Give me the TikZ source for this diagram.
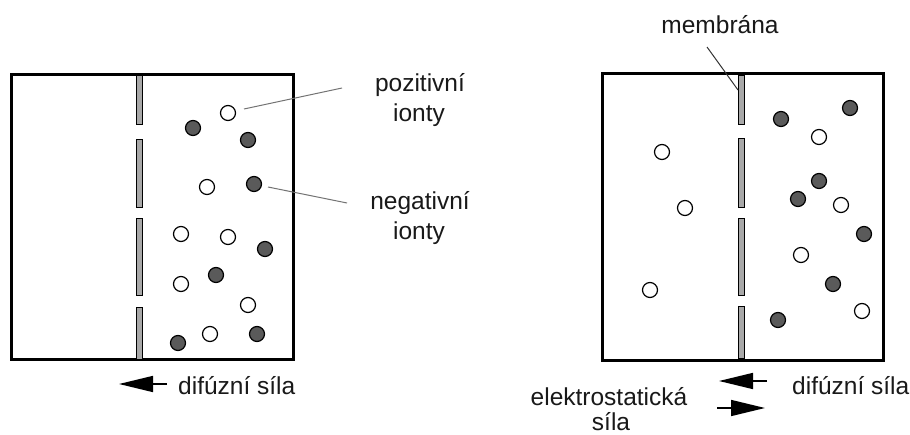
\documentclass[tikz,border=0pt]{standalone}
\usepackage{fontspec}
\setmainfont{Liberation Sans}
\usetikzlibrary{arrows.meta}
\definecolor{memgray}{HTML}{A8A8A8}
\definecolor{iondark}{HTML}{5A5A5A}
\begin{document}
\begin{tikzpicture}[x=1pt,y=-1pt,
  vessel/.style={draw=black,line width=3.8pt},
  memseg/.style={draw=black,line width=0.8pt,fill=memgray},
  posion/.style={circle,draw=black,line width=1.2pt,fill=white,minimum size=15pt,inner sep=0pt},
  negion/.style={circle,draw=black,line width=1.2pt,fill=iondark,minimum size=15pt,inner sep=0pt},
  lbl/.style={font=\fontsize{24.5}{29}\selectfont,inner sep=0pt,anchor=base,text=black!90},
  leader/.style={draw=black!55,line width=1pt},
  force/.style={line width=1.6pt,-{Triangle[length=34pt,width=16pt]}}]
\useasboundingbox (0,0) rectangle (910,435);
\fill[white] (0,0) rectangle (910,435);
% vessels
\draw[vessel] (11.5,74.5) rectangle (293.5,359.5);
\draw[vessel] (602.5,73.5) rectangle (883.5,360.5);
% left membrane
\foreach \a/\b in {75/124,139/207,218/295,307/359}
  \draw[memseg] (136.5,\a) rectangle (142.5,\b);
% right membrane
\foreach \a/\b in {75/124,138/207,218/295,306/358}
  \draw[memseg] (738,\a) rectangle (744,\b);
% left ions
\node[posion] (lp1) at (228,113) {};
\node[negion] (ln1) at (193,128) {};
\node[negion] (ln2) at (248,140) {};
\node[posion] (lp2) at (207,187) {};
\node[negion] (ln3) at (254,184) {};
\node[posion] (lp3) at (181,234) {};
\node[posion] (lp4) at (228,237) {};
\node[negion] (ln4) at (265,249) {};
\node[posion] (lp5) at (181,284) {};
\node[negion] (ln5) at (216,275) {};
\node[posion] (lp6) at (248,305) {};
\node[negion] (ln6) at (178,343) {};
\node[posion] (lp7) at (210,334) {};
\node[negion] (ln7) at (257,334) {};
% right ions
\node[posion] (rp1) at (662,152) {};
\node[posion] (rp2) at (685,208) {};
\node[posion] (rp3) at (650,290) {};
\node[negion] (rn1) at (781,119) {};
\node[negion] (rn2) at (850,108) {};
\node[posion] (rp4) at (819,137) {};
\node[negion] (rn3) at (819,181) {};
\node[negion] (rn4) at (798,199) {};
\node[posion] (rp5) at (841,205) {};
\node[negion] (rn5) at (864,234) {};
\node[posion] (rp6) at (801,255) {};
\node[negion] (rn6) at (833,284) {};
\node[posion] (rp7) at (862,311) {};
\node[negion] (rn7) at (778,320) {};
% labels
\node[lbl] (posA) at (420,91.7) {pozitivní};
\node[lbl] (posB) at (419,121.7) {ionty};
\node[lbl] (negA) at (420,210) {negativní};
\node[lbl] (negB) at (419,240) {ionty};
\node[lbl] (mem) at (720,33.3) {membrána};
\node[lbl,anchor=base west] (difL) at (178,395) {difúzní síla};
\node[lbl,anchor=base west] (difR) at (792,395) {difúzní síla};
\node[lbl] (elA) at (609,406) {elektrostatická};
\node[lbl] (elB) at (611,430) {síla};
% leader lines
\coordinate (posS) at (244,109);
\coordinate (posE) at (342,88);
\coordinate (negS) at (268,187);
\coordinate (negE) at (347,203);
\coordinate (memS) at (707,47);
\coordinate (memE) at (738,90);
\draw[leader] (posS) -- (posE);
\draw[leader] (negS) -- (negE);
\draw[line width=1pt,black!80] (memS) -- (memE);
% force arrows
\coordinate (fL1) at (167,384);
\coordinate (fL2) at (119,384);
\coordinate (fR1) at (767,381);
\coordinate (fR2) at (719,381);
\coordinate (fE1) at (717,408);
\coordinate (fE2) at (765,408);
\draw[force] (fL1) -- (fL2);
\draw[force] (fR1) -- (fR2);
\draw[force] (fE1) -- (fE2);
\end{tikzpicture}
\end{document}
